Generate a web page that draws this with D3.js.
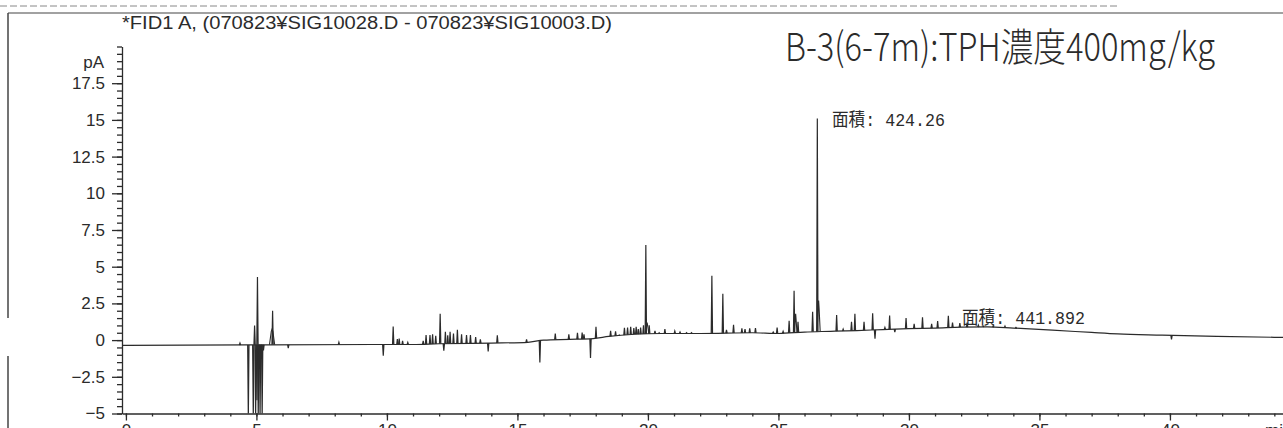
<!DOCTYPE html>
<html><head><meta charset="utf-8">
<script src="https://cdn.jsdelivr.net/npm/d3@7"></script>
<style>body{margin:0;background:#fff}svg{display:block}</style>
</head><body>
<svg id="c" width="1283" height="428"></svg>
<script>
// ---- data ----
const xMajorTicks = [0, 5, 10, 15, 20, 25, 30, 35, 40];
const xMinorTicks = d3.range(0, 45, 1);
const yMajorTicks = [-5, -2.5, 0, 2.5, 5, 7.5, 10, 12.5, 15, 17.5];
const yMinorTicks = d3.range(-5, 20.01, 0.5);
const yUnitLabel = "pA";
const xUnitLabel = "min";
const signalTitle = "*FID1 A, (070823¥SIG10028.D - 070823¥SIG10003.D)";
const sampleTitle = "B-3(6-7m):TPH濃度400mg/kg";
const areaLabels = ["面積: 424.26", "面積: 441.892"];

// baseline drift (min, pA)
const baselineTime  = [-0.15, 4.6, 5.4, 9.7, 11, 12, 14, 15.4, 16, 17, 17.9, 18.5, 19.5, 20.5, 22, 24, 25, 26, 27, 28, 29, 30, 31, 32, 33, 34, 35.5, 37, 38, 39.7, 41.8, 44.6];
const baselineValue = [-0.36, -0.33, -0.32, -0.3, -0.3, -0.25, -0.2, -0.15, 0.0, 0.05, 0.1, 0.25, 0.4, 0.45, 0.45, 0.5, 0.45, 0.55, 0.6, 0.65, 0.72, 0.78, 0.82, 0.88, 0.9, 0.82, 0.68, 0.52, 0.42, 0.34, 0.25, 0.18];

// sharp peaks: retention time (min) and apex signal (pA)
const peakTime  = [4.37, 4.69, 4.88, 4.93, 4.97, 5.02, 5.04, 5.07, 5.11, 5.14, 5.18, 5.22, 5.27, 5.62, 6.22, 8.16, 9.86,
  10.24, 10.4, 10.47, 10.6, 10.8, 11.39, 11.5, 11.65, 11.75, 11.87, 12.04, 12.18, 12.24, 12.33, 12.42, 12.55, 12.7, 12.86,
  13.05, 13.2, 13.4, 13.58, 13.88, 14.23, 15.35, 15.86, 16.45, 16.97, 17.3, 17.48, 17.55, 17.8, 18.01, 18.57, 18.76, 18.9,
  19.1, 19.22, 19.34, 19.46, 19.55, 19.63, 19.72, 19.83, 19.92, 20.05, 20.27, 20.43, 20.65, 21.03, 21.23, 21.48, 21.67,
  22.45, 22.87, 23.01, 23.28, 23.6, 23.72, 23.9, 24.12, 24.8, 24.95, 25.18, 25.41, 25.6, 25.75, 26.31, 26.49, 27.23, 27.48,
  27.8, 27.93, 28.28, 28.61, 28.7, 29.08, 29.26, 29.46, 29.89, 30.2, 30.52, 30.87, 31.1, 31.51, 31.67, 31.95, 32.23, 32.66,
  32.85, 33.23, 33.68, 34.1, 40.06];
const peakValue = [-0.2, -5.3, -5.3, 1.0, -5.3, -4.1, 4.3, -5.3, -1.0, -5.3, -0.9, -5.3, -0.7, 2.0, -0.55, -0.15, -1.07,
  0.93, 0.07, 0.1, -0.05, -0.16, -0.05, 0.35, 0.35, 0.4, 0.3, 1.8, -0.73, 0.57, 0.33, 0.57, 0.45, 0.7, 0.4,
  0.35, 0.35, 0.2, 0.05, -0.78, 0.32, 0.05, -1.52, 0.45, 0.4, 0.5, 0.52, 0.4, -1.22, 0.9, 0.63, 0.6, 0.35,
  0.83, 0.86, 0.9, 0.82, 0.9, 0.75, 0.86, 1.0, 6.48, 1.0, 0.63, 0.5, 0.75, 0.62, 0.55, 0.5, 0.5,
  4.38, 3.15, 0.7, 1.05, 0.8, 0.75, 0.8, 0.82, 0.55, 0.86, 0.6, 1.32, 3.36, 1.25, 1.93, 15.1, 1.7, 0.75,
  1.25, 1.8, 1.25, 1.82, 0.1, 0.86, 1.68, 0.55, 1.5, 1.1, 1.55, 1.1, 1.3, 1.66, 1.2, 1.16, 1.2, 1.02,
  0.95, 0.98, 0.95, 0.86, 0.05];

// broader humps under some peaks: time, apex, half width (min)
const humpTime  = [5.6, 19.97, 25.66, 26.54];
const humpValue = [0.75, 1.2, 1.8, 2.7];
const humpHalfWidth = [0.1, 0.07, 0.05, 0.06];

// ---- drawing ----
const svg = d3.select("#c");
const W = 1283, H = 428;
const x = d3.scaleLinear().domain([-0.15, 44.6]).range([122, 1290]);
const y = d3.scaleLinear().domain([-5, 20]).range([413.5, 46.5]);
const base = d3.scaleLinear().domain(baselineTime).range(baselineValue).clamp(true);
const ink = "#2b2b2b";
const font = "'Liberation Sans', Arial, sans-serif";

// page frame / scan edges
svg.append("line").attr("x1", 0).attr("x2", 1120).attr("y1", 6).attr("y2", 6)
  .attr("stroke", "#888").attr("stroke-width", 1).attr("stroke-dasharray", "7,3");
svg.append("line").attr("x1", 8).attr("x2", W).attr("y1", 13).attr("y2", 13)
  .attr("stroke", "#444").attr("stroke-width", 1.2);
svg.append("line").attr("x1", 8).attr("x2", 8).attr("y1", 13).attr("y2", 318)
  .attr("stroke", "#444").attr("stroke-width", 1.5);
svg.append("line").attr("x1", 8).attr("x2", 8).attr("y1", 356).attr("y2", H)
  .attr("stroke", "#444").attr("stroke-width", 1.5);

// titles
svg.append("text").attr("x", 122).attr("y", 29).attr("font-family", font).attr("font-size", 18)
  .attr("fill", ink).attr("textLength", 490).attr("lengthAdjust", "spacingAndGlyphs").text(signalTitle);
svg.append("text").attr("x", 785).attr("y", 61).attr("font-family", "'Noto Sans CJK JP', sans-serif")
  .attr("font-size", 39).attr("font-weight", 300).attr("fill", ink)
  .attr("textLength", 430).attr("lengthAdjust", "spacingAndGlyphs").text(sampleTitle);

// axes
const gx = svg.append("g").attr("transform", `translate(0,${y(-5)})`);
gx.call(d3.axisBottom(x).tickValues(xMinorTicks).tickSize(3).tickSizeOuter(0).tickFormat(""));
const gx2 = svg.append("g").attr("transform", `translate(0,${y(-5)})`);
gx2.call(d3.axisBottom(x).tickValues(xMajorTicks).tickSize(7).tickSizeOuter(0).tickPadding(3).tickFormat(d3.format("d")));
gx2.select(".domain").remove();
[gx, gx2].forEach(g => {
  g.selectAll("path,line").attr("stroke", ink).attr("stroke-width", 1.3);
  g.selectAll("text").attr("font-family", font).attr("font-size", 17).attr("fill", ink);
});
svg.append("text").attr("x", 1265).attr("y", 436).attr("font-family", font).attr("font-size", 17)
  .attr("fill", ink).text(xUnitLabel);

const gy = svg.append("g").attr("transform", `translate(122,0)`);
gy.call(d3.axisLeft(y).tickValues(yMinorTicks).tickSize(5).tickSizeOuter(0).tickFormat(""));
const gy2 = svg.append("g").attr("transform", `translate(122,0)`);
gy2.call(d3.axisLeft(y).tickValues(yMajorTicks).tickSize(10).tickSizeOuter(0).tickPadding(7)
  .tickFormat(d => d3.format("")(d).replace("-", "\u2212")));
gy2.select(".domain").remove();
[gy, gy2].forEach(g => {
  g.selectAll("path,line").attr("stroke", ink).attr("stroke-width", 1.3);
  g.selectAll("text").attr("font-family", font).attr("font-size", 17).attr("fill", ink);
});
svg.append("text").attr("x", 104).attr("y", 68).attr("text-anchor", "end").attr("font-family", font)
  .attr("font-size", 17).attr("fill", ink).text(yUnitLabel);

// clip to plot area
svg.append("clipPath").attr("id", "plot").append("rect")
  .attr("x", 122).attr("y", 46).attr("width", W - 122).attr("height", y(-5) - 46);
const plot = svg.append("g").attr("clip-path", "url(#plot)");
const line = d3.line().x(d => x(d[0])).y(d => y(d[1]));

// baseline trace
const bt = baselineTime.map((t, i) => [t, baselineValue[i]]);
plot.append("path").attr("d", line.curve(d3.curveMonotoneX)(bt)).attr("fill", "none").attr("stroke", ink).attr("stroke-width", 1.2);
line.curve(d3.curveLinear);

// humps
humpTime.forEach((t, i) => {
  const w = humpHalfWidth[i];
  plot.append("path").attr("d", line([[t - w, base(t - w)], [t - w * 0.3, humpValue[i] * 0.8], [t, humpValue[i]], [t + w * 0.3, humpValue[i] * 0.8], [t + w, base(t + w)]]))
    .attr("fill", "none").attr("stroke", ink).attr("stroke-width", 1.1);
});
// sharp peaks
const pw = 0.025;
peakTime.forEach((t, i) => {
  plot.append("path").attr("d", line([[t - pw, base(t - pw)], [t, peakValue[i]], [t + pw, base(t + pw)]]))
    .attr("fill", "none").attr("stroke", ink).attr("stroke-width", 1.2);
});

// area annotations
const monoFont = "'Liberation Mono', 'Noto Sans CJK JP', monospace";
svg.append("text").attr("x", 832).attr("y", 126).attr("font-family", monoFont).attr("font-size", 18)
  .attr("fill", ink).attr("textLength", 113).attr("lengthAdjust", "spacingAndGlyphs").text(areaLabels[0]);
svg.append("text").attr("x", 962).attr("y", 324).attr("font-family", monoFont).attr("font-size", 18)
  .attr("fill", ink).attr("textLength", 123).attr("lengthAdjust", "spacingAndGlyphs").text(areaLabels[1]);
</script>
</body></html>
